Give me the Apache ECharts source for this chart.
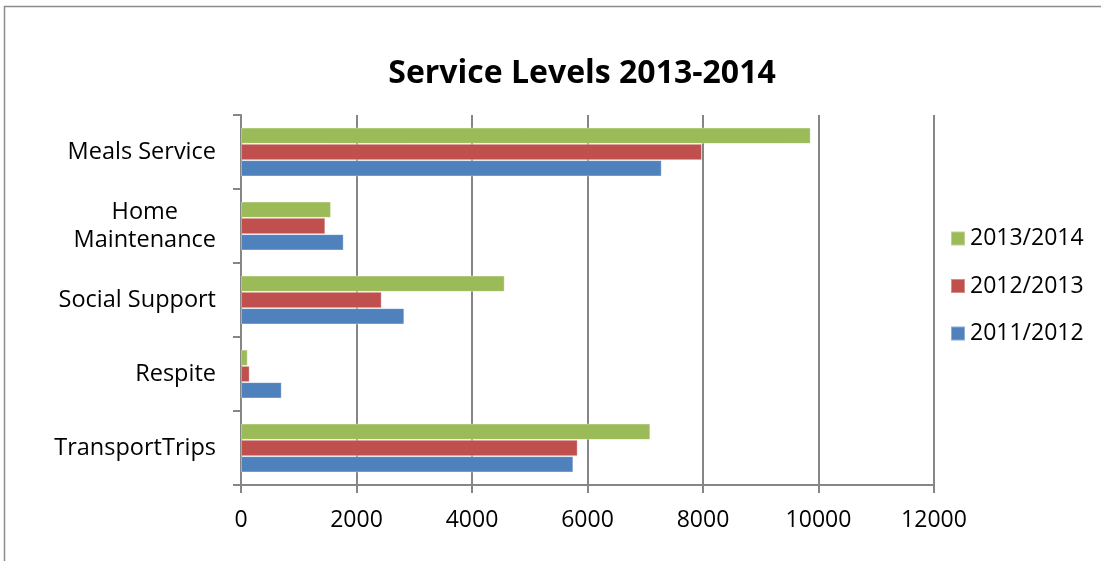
<!DOCTYPE html>
<html>
<head>
<meta charset="utf-8">
<script src="https://cdn.jsdelivr.net/npm/echarts@6/dist/echarts.min.js"></script>
<style>
html,body{margin:0;padding:0;background:#fff;}
#chart{width:1101px;height:561px;}
</style>
</head>
<body>
<div id="chart"></div>
<script>
const categories = ['TransportTrips', 'Respite', 'Social Support', 'Home Maintenance', 'Meals Service'];
const seriesNames = ['2013/2014', '2012/2013', '2011/2012'];
const values2013 = [7088, 116, 4566, 1558, 9865];
const values2012 = [5830, 150, 2436, 1460, 7983];
const values2011 = [5755, 705, 2828, 1778, 7285];
const xTicks = [0, 2000, 4000, 6000, 8000, 10000, 12000];
const colors = ['#9BBB59', '#C0504D', '#4F81BD'];

const FONT = '"Open Sans", sans-serif';
const chart = echarts.init(document.getElementById('chart'));
const seriesData = [values2013, values2012, values2011];
chart.setOption({
  animation: false,
  title: {
    text: 'Service Levels 2013-2014',
    left: 577, top: 53, textAlign: 'center',
    textStyle: { fontFamily: FONT, fontSize: 32, fontWeight: 'bold', color: '#000' }
  },
  legend: {
    orient: 'vertical', left: 945, top: 222,
    data: seriesNames,
    itemWidth: 14, itemHeight: 14, itemGap: 24.5,
    icon: 'rect',
    textStyle: { fontFamily: FONT, fontSize: 23, lineHeight: 23, color: '#000', padding: [0, 0, 0, 0] }
  },
  grid: { left: 241, right: 167, top: 115, bottom: 76, containLabel: false },
  xAxis: {
    type: 'value', min: xTicks[0], max: xTicks[xTicks.length - 1], interval: 2000,
    axisLine: { show: true, lineStyle: { color: '#868686', width: 2 } },
    axisTick: { show: true, length: 8, lineStyle: { color: '#868686', width: 2 } },
    splitLine: { show: true, lineStyle: { color: '#868686', width: 2 } },
    axisLabel: { fontFamily: FONT, fontSize: 23, color: '#000', margin: 24, formatter: function (v) { return String(v); } }
  },
  yAxis: {
    type: 'category', data: categories,
    axisLine: { show: true, lineStyle: { color: '#868686', width: 2 } },
    axisTick: { show: true, length: 8, inside: false, lineStyle: { color: '#868686', width: 2 } },
    axisLabel: {
      fontFamily: FONT, fontSize: 23.5, color: '#000', margin: 25,
      formatter: function (v) {
        if (v === 'Home Maintenance') return '{c|Home}\n{c|Maintenance}';
        return v;
      },
      rich: { c: { fontFamily: FONT, fontSize: 23.5, color: '#000', align: 'center', lineHeight: 28 } }
    }
  },
  series: seriesNames.map((name, i) => ({
    name: name, type: 'bar', data: seriesData[i],
    barGap: '0%', barCategoryGap: '34%',
    itemStyle: { color: colors[i], borderColor: 'rgba(255,255,255,0.35)', borderWidth: 1 }
  })),
  graphic: [{
    type: 'rect', shape: { x: 4.5, y: 6.5, width: 1200, height: 700 },
    style: { fill: null, stroke: '#8c8c8c', lineWidth: 1.5 }, silent: true
  }]
});
</script>
</body>
</html>
